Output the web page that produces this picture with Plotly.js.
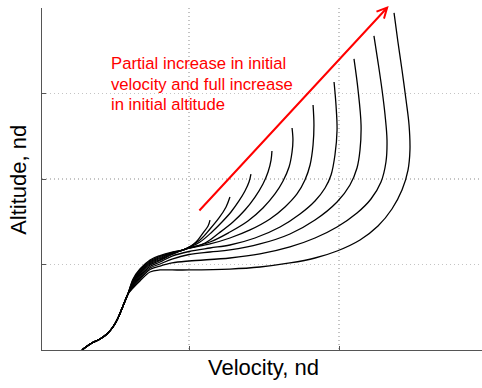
<!DOCTYPE html>
<html>
<head>
<meta charset="utf-8">
<script src="https://cdn.plot.ly/plotly-3.0.1.min.js"></script>
<style>html,body{margin:0;padding:0;background:#fff;}#chart{width:482px;height:388px;}</style>
</head>
<body>
<div id="chart"></div>
<script>
// Shared launch segment (all trajectories start together)
const launchX = [0.287, 0.313, 0.353, 0.407, 0.453, 0.493, 0.527, 0.560, 0.593];
const launchY = [0.000, 0.035, 0.082, 0.129, 0.187, 0.269, 0.374, 0.515, 0.655];

// Bundle section velocities (shared), altitudes per trajectory
const bundleX = [0.627, 0.673, 0.740, 0.807, 0.887, 0.967];
const bundleY0 = [0.830, 0.947, 1.053, 1.105, 1.146, 1.175];
const bundleY1 = [0.819, 0.936, 1.041, 1.094, 1.140, 1.175];
const bundleY2 = [0.807, 0.918, 1.029, 1.082, 1.135, 1.175];
const bundleY3 = [0.795, 0.906, 1.018, 1.070, 1.129, 1.175];
const bundleY4 = [0.784, 0.895, 1.006, 1.058, 1.123, 1.175];
const bundleY5 = [0.772, 0.877, 0.994, 1.047, 1.117, 1.175];
const bundleY6 = [0.760, 0.860, 0.977, 1.029, 1.099];
const bundleY7 = [0.749, 0.842, 0.959, 1.006, 1.064];
const bundleY8 = [0.737, 0.825, 0.942, 0.982, 1.018];
const bundleY9 = [0.725, 0.807, 0.912, 0.936, 0.936];

// Final segments per trajectory (velocity, altitude)
const tailX0 = [1.013, 1.047, 1.093, 1.127, 1.140];
const tailY0 = [1.216, 1.263, 1.368, 1.450, 1.520];
const tailX1 = [1.073, 1.140, 1.200, 1.247, 1.273];
const tailY1 = [1.287, 1.415, 1.544, 1.673, 1.789];
const tailX2 = [1.073, 1.153, 1.220, 1.280, 1.333, 1.373, 1.400, 1.413];
const tailY2 = [1.263, 1.380, 1.497, 1.614, 1.743, 1.860, 1.965, 2.058];
const tailX3 = [1.107, 1.200, 1.293, 1.373, 1.440, 1.493, 1.527, 1.547, 1.553];
const tailY3 = [1.251, 1.368, 1.497, 1.637, 1.789, 1.942, 2.082, 2.222, 2.327];
const tailX4 = [1.140, 1.273, 1.393, 1.493, 1.573, 1.627, 1.667, 1.687, 1.693, 1.687];
const tailY4 = [1.263, 1.380, 1.509, 1.661, 1.825, 1.977, 2.140, 2.316, 2.456, 2.596];
const tailX5 = [1.140, 1.273, 1.407, 1.540, 1.640, 1.720, 1.773, 1.807, 1.827, 1.833, 1.827];
const tailY5 = [1.240, 1.310, 1.404, 1.532, 1.673, 1.825, 1.988, 2.164, 2.398, 2.632, 2.865];
const tailX6 = [1.000, 1.140, 1.273, 1.440, 1.607, 1.740, 1.840, 1.907, 1.947, 1.973, 1.987, 1.980, 1.967];
const tailY6 = [1.152, 1.193, 1.228, 1.310, 1.439, 1.591, 1.743, 1.895, 2.047, 2.281, 2.573, 2.865, 3.135];
const tailX7 = [1.000, 1.140, 1.273, 1.473, 1.673, 1.840, 1.987, 2.073, 2.120, 2.140, 2.147, 2.127, 2.100];
const tailY7 = [1.117, 1.146, 1.170, 1.240, 1.357, 1.520, 1.731, 1.930, 2.129, 2.339, 2.632, 3.041, 3.404];
const tailX8 = [1.000, 1.273, 1.473, 1.673, 1.840, 1.987, 2.120, 2.213, 2.280, 2.313, 2.320, 2.307, 2.287, 2.260, 2.233];
const tailY8 = [1.041, 1.076, 1.123, 1.205, 1.310, 1.439, 1.602, 1.766, 1.965, 2.199, 2.456, 2.749, 3.041, 3.368, 3.673];
const tailX9 = [1.000, 1.273, 1.473, 1.673, 1.840, 1.987, 2.140, 2.260, 2.353, 2.420, 2.460, 2.473, 2.467, 2.447, 2.420, 2.393, 2.367];
const tailY9 = [0.936, 0.947, 0.971, 1.018, 1.076, 1.158, 1.287, 1.450, 1.649, 1.871, 2.105, 2.339, 2.632, 2.924, 3.275, 3.602, 3.942];

const bundleYs = [bundleY0, bundleY1, bundleY2, bundleY3, bundleY4, bundleY5, bundleY6, bundleY7, bundleY8, bundleY9];
const tailXs = [tailX0, tailX1, tailX2, tailX3, tailX4, tailX5, tailX6, tailX7, tailX8, tailX9];
const tailYs = [tailY0, tailY1, tailY2, tailY3, tailY4, tailY5, tailY6, tailY7, tailY8, tailY9];

const annotationLines = ["Partial increase in initial", "velocity and full increase", "in initial altitude"];
const xTitle = "Velocity, nd";
const yTitle = "Altitude, nd";
const gridX = [1, 2];
const gridY = [1, 2, 3, 4];

const FONT = "'Liberation Sans', Arial, Helvetica, sans-serif";

const traces = bundleYs.map((by, i) => ({
  type: 'scatter', mode: 'lines',
  x: launchX.concat(bundleX.slice(0, by.length), tailXs[i]),
  y: launchY.concat(by, tailYs[i]),
  line: {color: '#000', width: 1.3, shape: 'spline', smoothing: 1},
  hoverinfo: 'skip'
}));

const lineYs = [0.8363, 0.7763, 0.7178];
const annotations = annotationLines.map((t, i) => ({
  xref: 'paper', yref: 'paper', x: 0.1523, y: lineYs[i],
  xanchor: 'left', yanchor: 'middle', text: t, showarrow: false,
  font: {family: FONT, size: 16.7, color: '#ff0000'}
}));
annotations.push({
  xref: 'x', yref: 'y', axref: 'x', ayref: 'y',
  x: 2.331, y: 4.023, ax: 1.06, ay: 1.614,
  text: '', showarrow: true, arrowhead: 5, arrowsize: 1, arrowwidth: 2,
  arrowcolor: '#ff0000', standoff: 0, startstandoff: 0
});
annotations.push({
  xref: 'paper', yref: 'paper', x: 0.5045, y: -0.0526, xanchor: 'center', yanchor: 'middle',
  text: xTitle, showarrow: false, font: {family: FONT, size: 22, color: '#000'}
});
annotations.push({
  xref: 'paper', yref: 'paper', x: -0.055, y: 0.497, xanchor: 'center', yanchor: 'middle',
  text: yTitle, textangle: -90, showarrow: false, font: {family: FONT, size: 22, color: '#000'}
});

const layout = {
  width: 482, height: 388,
  margin: {l: 42, r: 0, t: 8, b: 38, pad: 0},
  paper_bgcolor: '#fff', plot_bgcolor: '#fff',
  showlegend: false,
  font: {family: FONT},
  xaxis: {
    range: [0.02, 2.9533], tickmode: 'array', tickvals: gridX, showticklabels: false,
    showgrid: true, gridcolor: '#c4c4c4', griddash: '1px,3px', gridwidth: 1.2,
    showline: true, linecolor: '#555', linewidth: 1,
    ticks: 'inside', ticklen: 4, tickcolor: '#555', zeroline: false, fixedrange: true
  },
  yaxis: {
    range: [0, 4], tickmode: 'array', tickvals: gridY, showticklabels: false,
    showgrid: true, gridcolor: '#c4c4c4', griddash: '1px,3px', gridwidth: 1.2,
    showline: true, linecolor: '#555', linewidth: 1,
    ticks: 'inside', ticklen: 4, tickcolor: '#555', zeroline: false, fixedrange: true
  },
  annotations: annotations
};

Plotly.newPlot('chart', traces, layout, {staticPlot: true, displayModeBar: false});
</script>
</body>
</html>
